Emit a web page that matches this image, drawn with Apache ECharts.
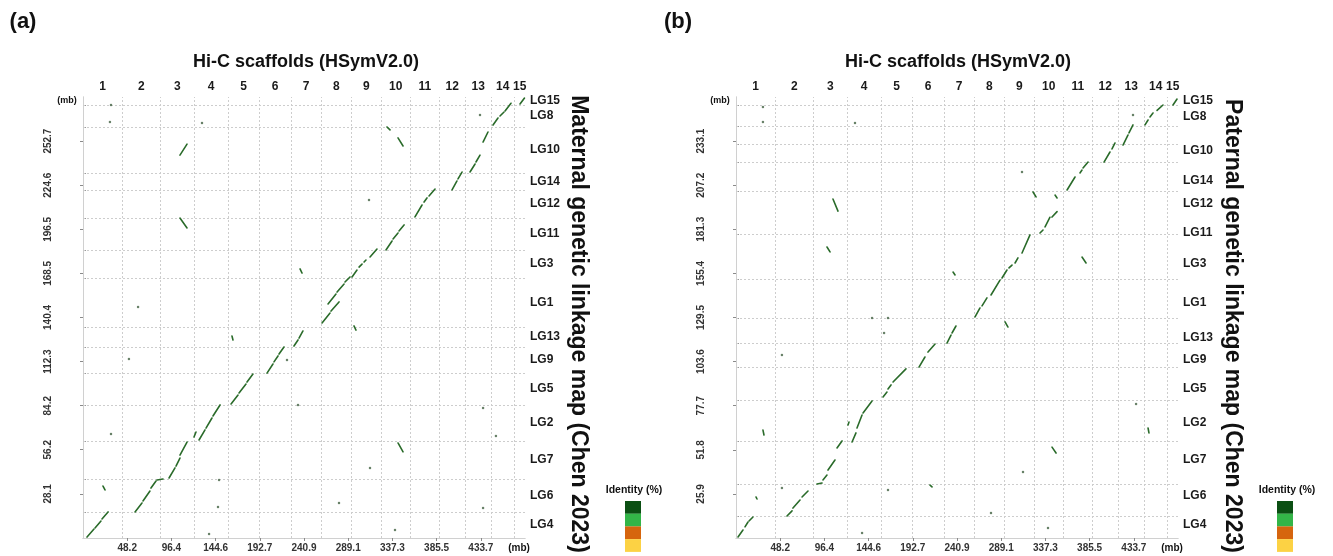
<!DOCTYPE html>
<html><head><meta charset="utf-8">
<script src="https://cdn.jsdelivr.net/npm/echarts@6/dist/echarts.min.js"></script>
<style>html,body{margin:0;padding:0;background:#fff}#c{width:1333px;height:556px}</style>
</head><body><div id="c"></div>
<script>
// ---- Hi-C scaffolds (x axis, shared by both panels), mb ----
const scaffoldNames = ['1','2','3','4','5','6','7','8','9','10','11','12','13','14','15'];
const scaffoldBounds = [0, 42.5, 84.5, 121.0, 158.1, 191.9, 226.8, 259.5, 292.7, 324.9, 357.0, 388.1, 417.0, 444.8, 470.4, 481.85];
const xMax = 481.85;
const xTicks = [48.2, 96.4, 144.6, 192.7, 240.9, 289.1, 337.3, 385.5, 433.7];

// ---- linkage groups (bottom -> top) ----
const lgNames = ['LG4','LG6','LG7','LG2','LG5','LG9','LG13','LG1','LG3','LG11','LG12','LG14','LG10','LG8','LG15'];

// Panel (a) maternal
const yMaxA = 280.77;
const yTicksA = [28.1, 56.2, 84.2, 112.3, 140.4, 168.5, 196.5, 224.6, 252.7];
const lgBoundsA = [0, 16.6, 37.6, 61.8, 84.7, 105.1, 121.6, 134.3, 165.5, 183.4, 203.7, 221.6, 232.4, 261.7, 275.7, 280.77];
const lgLabelPosA = [8.3, 27.1, 49.7, 73.3, 94.9, 113.4, 128.0, 149.9, 174.5, 193.6, 212.7, 227.0, 247.1, 268.7, 278.2];
const diagA = [
 [4.4,0.6,12.0,5.7],[13.1,6.4,19.6,10.8],[20.7,12.1,27.3,16.6],
 [56.7,16.6,64.3,22.3],[65.4,23.6,73.0,29.9],[74.1,31.8,79.6,36.3],[80.7,36.9,87.2,37.6],
 [93.8,38.2,100.3,44.6],[101.4,45.8,105.7,50.9],[105.7,52.8,113.4,61.1],
 [126.5,62.4,133.0,68.8],[134.1,70.0,140.6,76.4],[141.7,77.7,149.4,84.7],[121.0,64.3,123.2,67.5],
 [161.4,85.3,169.0,91.0],[170.1,92.3,177.7,98.0],[178.8,99.3,185.3,104.4],
 [200.6,105.0,207.1,110.8],[208.2,112.1,212.6,115.9],[213.7,117.1,219.1,121.6],
 [230.0,122.2,234.4,126.1],[235.5,127.3,239.8,131.8],
 [260.6,136.9,269.3,143.2],[270.4,144.5,279.1,150.3],
 [267.1,149.0,275.8,155.3],[277.0,156.6,284.6,161.7],[285.6,163.0,291.1,166.2],
 [293.3,166.2,298.7,170.6],[300.9,172.5,304.2,174.4],[306.4,175.7,308.5,177.0],[312.9,178.9,320.5,184.0],
 [330.3,183.4,336.9,189.1],[338.0,190.4,343.4,194.2],[344.5,195.5,350.0,199.3],
 [361.9,204.4,369.6,212.0],[371.8,213.9,375.0,216.5],[377.2,217.8,383.8,222.2],
 [402.3,221.6,407.7,227.3],[408.8,228.6,413.2,233.0],
 [421.9,233.0,427.4,238.1],[428.4,239.4,432.8,243.8],[436.1,252.1,441.5,258.5],
 [447.0,262.9,452.4,267.4],[454.6,268.7,459.0,271.2],[460.1,271.9,466.6,276.8],
 [476.4,276.3,481.3,280.1]
];
const offA = [
 [105.7,243.8,113.4,250.8],[105.7,203.7,113.4,197.4],
 [331.4,261.7,334.7,259.8],[343.4,254.7,348.9,249.6],
 [236.6,171.3,238.8,168.7],[295.4,135.0,297.6,132.4],
 [343.4,60.5,348.9,54.8],[21.8,33.1,24.0,30.6],[162.4,128.6,163.5,126.1]
];
const dotsA = [[312.9,44.6],[279.1,22.3],[340.1,5.1],[436.1,82.8],[450.2,64.9],[436.1,19.1],[222.4,113.3],[311.8,215.2],[432.8,269.3],[30.5,275.7],[29.4,264.9],[129.7,264.2],[60.0,147.1],[50.1,114.0],[30.5,66.2],[148.3,36.9],[147.2,19.7],[137.4,2.5],[234.4,84.7]];

// Panel (b) paternal
const yMaxB = 259.0;
const yTicksB = [25.9, 51.8, 77.7, 103.6, 129.5, 155.4, 181.3, 207.2, 233.1];
const lgBoundsB = [0, 12.9, 31.7, 57.0, 81.0, 100.4, 114.5, 129.2, 152.1, 178.5, 203.8, 220.8, 231.4, 242.0, 254.3, 259.0];
const lgLabelPosB = [7.6, 24.7, 45.8, 67.5, 87.5, 104.5, 117.5, 138.0, 160.9, 179.1, 196.2, 209.7, 227.3, 247.3, 256.6];
const diagB = [
 [2.2,0.6,7.6,4.7],[9.8,6.5,13.1,9.4],[14.2,10.0,18.5,12.3],
 [55.6,12.9,61.1,15.9],[62.1,17.6,69.8,22.3],[72.0,24.1,78.5,27.6],
 [88.3,31.7,93.8,32.3],[94.8,34.1,99.2,37.0],[100.3,39.9,107.9,45.8],[110.1,52.9,115.6,57.0],
 [126.5,56.4,130.8,61.7],[131.9,64.6,137.4,72.2],[138.5,73.4,148.3,80.5],[122.1,66.4,123.2,68.1],
 [160.3,82.8,164.6,85.7],[165.7,87.5,169.0,89.9],[171.2,91.6,185.3,99.3],
 [199.5,100.4,206.0,106.3],[209.3,109.2,217.0,113.9],
 [230.0,114.5,234.4,119.2],[235.5,120.4,239.8,124.5],
 [260.6,129.8,266.0,135.1],[268.2,136.3,273.6,141.0],[278.0,142.7,287.8,151.5],
 [290.0,152.7,295.4,157.4],[297.6,158.6,300.9,160.3],[304.2,161.5,307.4,164.5],[311.8,167.4,320.5,178.0],
 [331.4,179.1,334.7,180.9],[336.9,182.7,342.3,188.4],[344.5,188.5,350.0,191.7],
 [360.9,204.4,369.6,212.0],[375.0,214.4,377.2,216.1],[378.3,217.3,383.8,220.8],
 [401.2,220.8,407.7,226.7],[409.9,228.5,413.2,232.0],
 [421.9,230.8,427.4,236.7],[428.4,237.9,432.8,242.6],
 [445.9,242.6,449.2,245.5],[451.3,247.3,454.6,249.6],[459.0,251.1,465.5,254.3],
 [476.4,254.3,480.8,257.8]
];
const offB = [
 [105.7,199.1,111.2,192.0],[99.2,170.9,102.5,168.0],[236.6,156.2,238.8,154.5],
 [377.2,165.0,381.6,161.5],[293.3,126.9,296.5,123.9],[323.8,203.2,327.1,200.3],[347.8,201.4,350.0,199.7],
 [344.5,53.4,348.9,49.9],[449.2,64.6,450.2,61.7],[21.8,24.1,22.9,22.9],[29.4,63.4,30.5,60.5],[211.5,31.1,213.7,30.0]
];
const dotsB = [[311.8,215.0],[432.8,248.4],[436.1,78.7],[312.9,38.8],[278.0,14.7],[340.1,5.9],[165.7,129.2],[161.4,120.4],[50.1,29.4],[50.1,107.5],[165.7,28.2],[137.4,2.9],[148.3,129.2],[129.7,243.7],[29.4,244.3],[29.4,253.1]];

const identityColors = ['#0b4f13', '#33b548', '#d6650e', '#fcd244'];

// ---- build ----
const FONT = '"Liberation Sans", Arial, Helvetica, sans-serif';
const inner = b => b.slice(1, -1);
const mids = b => b.slice(0, -1).map((v, i) => (v + b[i + 1]) / 2);
const nameAt = (pos, names) => v => { const i = pos.findIndex(p => Math.abs(p - v) < 1e-6); return i >= 0 ? names[i] : ''; };
const scafMids = mids(scaffoldBounds);

const panels = [
  {left: 83, yMax: yMaxA, yTicks: yTicksA, lgBounds: lgBoundsA, lgPos: lgLabelPosA, diag: diagA, off: offA, dots: dotsA},
  {left: 736, yMax: yMaxB, yTicks: yTicksB, lgBounds: lgBoundsB, lgPos: lgLabelPosB, diag: diagB, off: offB, dots: dotsB}
];
const frame = {show: true, lineStyle: {color: '#d0d0d0', width: 1}};
const grid = [], xAxis = [], yAxis = [], series = [];
panels.forEach((p, k) => {
  grid.push({left: p.left, top: 97, width: 442, height: 441});
  xAxis.push({type: 'value', gridIndex: k, min: 0, max: xMax, position: 'bottom', axisLine: frame, splitLine: {show: false},
    axisTick: {show: true, customValues: xTicks, length: 3, lineStyle: {color: '#8a8a8a'}},
    axisLabel: {customValues: xTicks, formatter: v => v.toFixed(1), margin: 5, fontSize: 10, fontWeight: 'bold', color: '#333', fontFamily: FONT}});
  xAxis.push({type: 'value', gridIndex: k, min: 0, max: xMax, position: 'top', axisLine: frame, splitLine: {show: false},
    axisTick: {show: true, customValues: inner(scaffoldBounds), length: 2, lineStyle: {color: '#9a9a9a'}},
    axisLabel: {customValues: scafMids, formatter: nameAt(scafMids, scaffoldNames), margin: 4, fontSize: 12, fontWeight: 'bold', color: '#1a1a1a', fontFamily: FONT}});
  yAxis.push({type: 'value', gridIndex: k, min: 0, max: p.yMax, position: 'left', axisLine: frame, splitLine: {show: false},
    axisTick: {show: true, customValues: p.yTicks, length: 3, lineStyle: {color: '#8a8a8a'}},
    axisLabel: {customValues: p.yTicks, rotate: 90, formatter: v => v.toFixed(1), margin: 30, fontSize: 10, fontWeight: 'bold', color: '#333', fontFamily: FONT}});
  yAxis.push({type: 'value', gridIndex: k, min: 0, max: p.yMax, position: 'right', axisLine: frame, splitLine: {show: false},
    axisTick: {show: true, customValues: inner(p.lgBounds), length: 3, lineStyle: {color: '#9a9a9a'}},
    axisLabel: {customValues: p.lgPos, formatter: nameAt(p.lgPos, lgNames), margin: 5, fontSize: 12, fontWeight: 'bold', color: '#1a1a1a', fontFamily: FONT}});
  const xi = 2 * k, yi = 2 * k;
  const gl = [];
  inner(scaffoldBounds).forEach(b => gl.push({coords: [[b, 0], [b, p.yMax]]}));
  inner(p.lgBounds).forEach(b => gl.push({coords: [[0, b], [xMax, b]]}));
  series.push({type: 'lines', coordinateSystem: 'cartesian2d', xAxisIndex: xi, yAxisIndex: yi, silent: true, z: 1,
    lineStyle: {color: '#cdcdcd', width: 1, type: [2, 2], opacity: 1}, data: gl});
  series.push({type: 'lines', coordinateSystem: 'cartesian2d', xAxisIndex: xi, yAxisIndex: yi, silent: true, z: 3,
    lineStyle: {color: '#2a6b2a', width: 1.6, opacity: 1, cap: 'round'},
    data: p.diag.concat(p.off).map(s => ({coords: [[s[0], s[1]], [s[2], s[3]]]}))});
  series.push({type: 'scatter', xAxisIndex: xi, yAxisIndex: yi, silent: true, z: 3, symbolSize: 2.5,
    itemStyle: {color: '#4d6b4d', opacity: 0.85}, data: p.dots});
});

const txt = (x, y, s, size, extra) => Object.assign({type: 'text', x: x, y: y,
  style: {text: s, font: 'bold ' + size + 'px ' + FONT, fill: '#111', align: 'center', verticalAlign: 'middle'}}, extra || {});
const graphic = [
  txt(23, 22, '(a)', 22), txt(678, 22, '(b)', 22),
  txt(306, 62, 'Hi-C scaffolds (HSymV2.0)', 18), txt(958, 62, 'Hi-C scaffolds (HSymV2.0)', 18),
  txt(578, 324, 'Maternal genetic linkage map (Chen 2023)', 23, {rotation: -Math.PI / 2}),
  txt(1232, 326, 'Paternal genetic linkage map (Chen 2023)', 23, {rotation: -Math.PI / 2}),
  txt(67, 101, '(mb)', 9), txt(720, 101, '(mb)', 9),
  txt(519, 548, '(mb)', 10), txt(1172, 548, '(mb)', 10),
  txt(634, 490, 'Identity (%)', 10.5), txt(1287, 490, 'Identity (%)', 10.5)
];
[625, 1277].forEach(x0 => identityColors.forEach((c, i) => graphic.push({type: 'rect', shape: {x: x0, y: 501 + i * 12.7, width: 16, height: 12.8}, style: {fill: c}})));

const chart = echarts.init(document.getElementById('c'));
chart.setOption({animation: false, backgroundColor: '#ffffff', grid, xAxis, yAxis, series, graphic});
</script>
</body></html>
